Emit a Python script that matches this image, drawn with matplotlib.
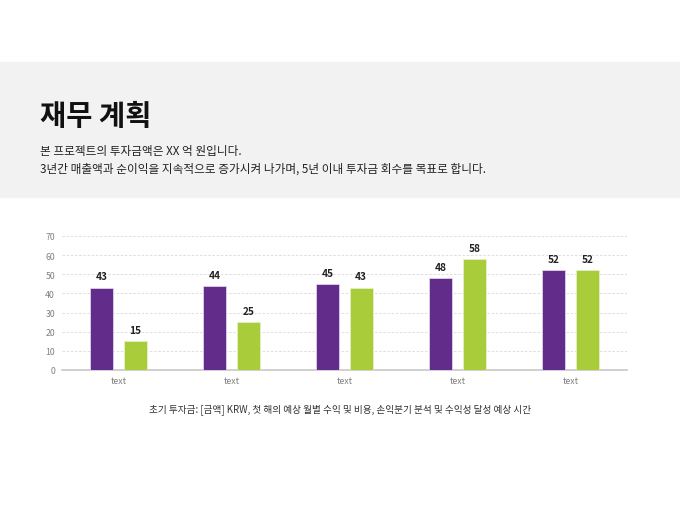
import matplotlib.pyplot as plt
import numpy as np
from matplotlib.patches import Rectangle

plt.rcParams['font.family'] = ['Noto Sans CJK KR', 'DejaVu Sans']

categories = ["text", "text", "text", "text", "text"]
series_a = [43, 44, 45, 48, 52]
series_b = [15, 25, 43, 58, 52]
y_ticks = [0, 10, 20, 30, 40, 50, 60, 70]

title = "재무 계획"
subtitle_1 = "본 프로젝트의 투자금액은 XX 억 원입니다."
subtitle_2 = "3년간 매출액과 순이익을 지속적으로 증가시켜 나가며, 5년 이내 투자금 회수를 목표로 합니다."
footnote = "초기 투자금: [금액] KRW, 첫 해의 예상 월별 수익 및 비용, 손익분기 분석 및 수익성 달성 예상 시간"

purple = "#622d8a"
green = "#a9cd3a"

fig = plt.figure(figsize=(6.8, 5.1), dpi=100)

# gray header band
fig.patches.append(Rectangle((0, 1 - 198 / 510), 1, 135 / 510,
                             transform=fig.transFigure, color="#f2f2f2", zorder=0))

fig.text(40 / 680, 1 - 117 / 510, title, fontsize=20.5, fontweight="bold",
         va="center", ha="left", color="#111111")
fig.text(40 / 680, 1 - 152 / 510, subtitle_1, fontsize=8.4,
         va="center", ha="left", color="#222222")
fig.text(40 / 680, 1 - 169 / 510, subtitle_2, fontsize=8.4,
         va="center", ha="left", color="#222222")

ax = fig.add_axes([62 / 680, 1 - 371 / 510, 565 / 680, 134 / 510])

x = np.arange(len(categories))
w = 0.2
off = 0.148
bars_a = ax.bar(x - off, series_a, w, color=purple, edgecolor="#eadcf2", linewidth=0.5, zorder=3)
bars_b = ax.bar(x + off, series_b, w, color=green, edgecolor="#e8f3cc", linewidth=0.5, zorder=3)

for bars in (bars_a, bars_b):
    for b in bars:
        ax.annotate(f"{b.get_height():.0f}", (b.get_x() + b.get_width() / 2, b.get_height()),
                    xytext=(0, 4.5), textcoords="offset points", ha="center", va="bottom",
                    fontsize=7.3, fontweight="bold", color="#222222")

ax.set_xlim(-0.5, len(categories) - 0.5)
ax.set_ylim(0, 70)
ax.set_yticks(y_ticks)
ax.set_xticks(x)
ax.set_xticklabels(categories)

ax.grid(axis="y", linestyle=(0, (3, 2)), color="#d9d9d9", linewidth=0.6, zorder=0)
ax.set_axisbelow(True)
for s in ["top", "right", "left"]:
    ax.spines[s].set_visible(False)
ax.spines["bottom"].set_color("#c8c8c8")
ax.spines["bottom"].set_linewidth(1.2)
ax.tick_params(axis="both", length=0, labelsize=6.3, labelcolor="#808080")
ax.tick_params(axis="y", pad=5)
ax.tick_params(axis="x", pad=4)

fig.text(0.5, 1 - 410 / 510, footnote, fontsize=6.95, ha="center", va="center", color="#333333")

plt.savefig("out.png")
plt.close()
